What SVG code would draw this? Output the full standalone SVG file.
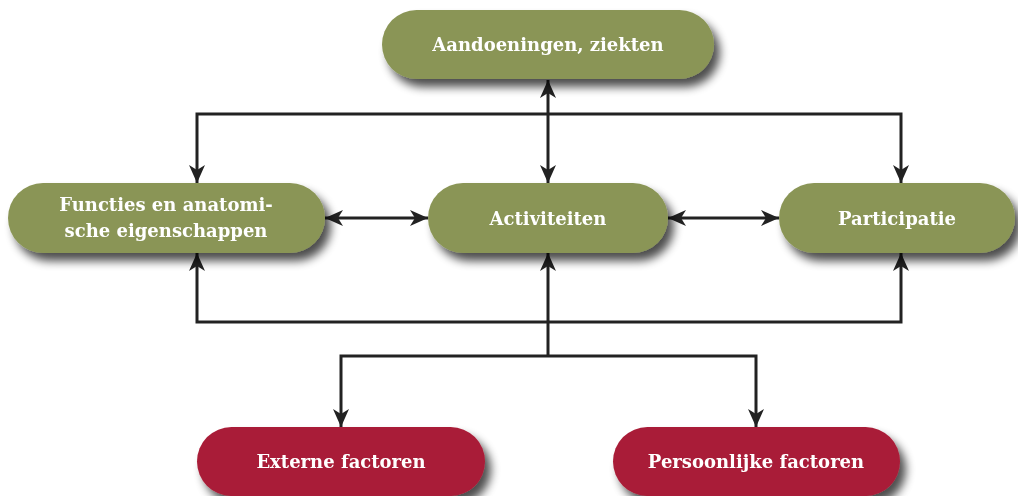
<svg xmlns="http://www.w3.org/2000/svg" width="1018" height="496" viewBox="0 0 1018 496">
  <style>
    .g { fill: #8a9556; }
    .r { fill: #a91c37; }
    .t { fill: #ffffff; font-family: "DejaVu Serif", "Liberation Serif", serif; font-weight: bold; font-size: 18px; text-anchor: middle; dominant-baseline: central; }
    .c { fill: none; stroke: #222222; stroke-width: 3; }
  </style>
  <defs>
    <filter id="sh" x="-10%" y="-20%" width="125%" height="160%">
      <feGaussianBlur in="SourceAlpha" stdDeviation="5"/>
      <feOffset dx="6" dy="8" result="b"/>
      <feComponentTransfer><feFuncA type="linear" slope="0.7"/></feComponentTransfer>
      <feMerge><feMergeNode/><feMergeNode in="SourceGraphic"/></feMerge>
    </filter>
    <marker id="ah" markerUnits="userSpaceOnUse" markerWidth="22" markerHeight="20" viewBox="0 -10 20 20" refX="18" refY="0" orient="auto-start-reverse">
      <path d="M0,-8 L18,0 L0,8 L5,0 z" fill="#222222"/>
    </marker>
  </defs>
  <g id="connectors">
    <line class="c" x1="548" y1="80" x2="548" y2="183" marker-start="url(#ah)" marker-end="url(#ah)"/>
    <polyline class="c" points="197,183 197,114 901,114 901,183" marker-start="url(#ah)" marker-end="url(#ah)"/>
    <line class="c" x1="325" y1="218" x2="428" y2="218" marker-start="url(#ah)" marker-end="url(#ah)"/>
    <line class="c" x1="668" y1="218" x2="779" y2="218" marker-start="url(#ah)" marker-end="url(#ah)"/>
    <polyline class="c" points="197,253 197,322 901,322 901,253" marker-start="url(#ah)" marker-end="url(#ah)"/>
    <line class="c" x1="548" y1="356" x2="548" y2="253" marker-end="url(#ah)"/>
    <polyline class="c" points="341,427 341,356 756,356 756,427" marker-start="url(#ah)" marker-end="url(#ah)"/>
  </g>
  <g id="aandoeningen" filter="url(#sh)">
    <rect class="g" x="382" y="10" width="332" height="69" rx="34.5"/>
    <text class="t" x="548" y="44">Aandoeningen, ziekten</text>
  </g>
  <g id="functies" filter="url(#sh)">
    <rect class="g" x="8" y="183" width="317" height="70" rx="35"/>
    <text class="t" x="166" y="204">Functies en anatomi-</text>
    <text class="t" x="166" y="230">sche eigenschappen</text>
  </g>
  <g id="activiteiten" filter="url(#sh)">
    <rect class="g" x="428" y="183" width="240" height="70" rx="35"/>
    <text class="t" x="548" y="218">Activiteiten</text>
  </g>
  <g id="participatie" filter="url(#sh)">
    <rect class="g" x="779" y="183" width="236" height="70" rx="35"/>
    <text class="t" x="897" y="218">Participatie</text>
  </g>
  <g id="externe" filter="url(#sh)">
    <rect class="r" x="197" y="427" width="288" height="69" rx="34.5"/>
    <text class="t" x="341" y="461">Externe factoren</text>
  </g>
  <g id="persoonlijke" filter="url(#sh)">
    <rect class="r" x="613" y="427" width="287" height="69" rx="34.5"/>
    <text class="t" x="756" y="461">Persoonlijke factoren</text>
  </g>
</svg>
